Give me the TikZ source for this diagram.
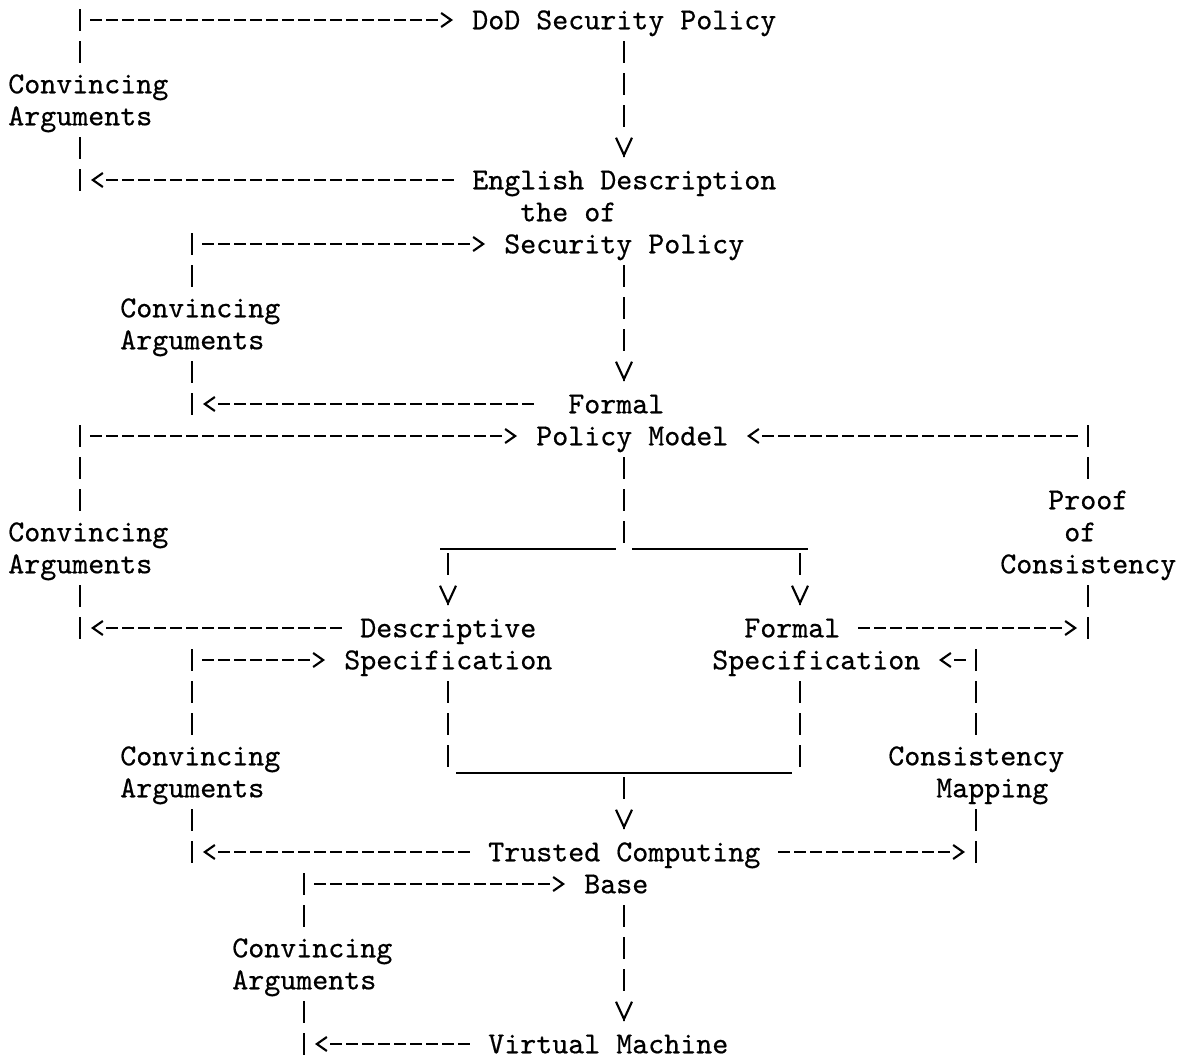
\documentclass[tikz,border=0pt]{standalone}
\usepackage{fontspec}
\usetikzlibrary{arrows.meta}

% typewriter face, slightly darkened
\newfontfamily\tw{lmmono10-regular}[Extension=.otf,FakeBold=0.5]

% one grid cell = one typewriter character: 12pt wide, 24pt high
% vertical run of "|" marks in column #1, rows #2..#3
\newcommand\vrun[3]{\draw[pipe] (#1,#2-0.34375) -- (#1,#3+0.34375);}
% horizontal run of "-" marks in columns #1..#2, row #3
\newcommand\hrun[3]{\draw[hdash] (#1-0.375,#3) -- (#2+0.375,#3);}
% arrowheads: ">" , "<" and "V" in column #1, row #2
\newcommand\tipR[2]{\draw[htip] (#1+0.25,#2) -- (#1+0.3125,#2);}
\newcommand\tipL[2]{\draw[htip] (#1-0.25,#2) -- (#1-0.3125,#2);}
\newcommand\tipV[2]{\draw[vtip] (#1,#2+0.27) -- (#1,#2+0.3);}

\begin{document}
\begin{tikzpicture}[x=12pt,y=-24pt,
  lbl/.style={anchor=base west,inner sep=0pt,
    font=\tw\fontsize{22.86pt}{24pt}\selectfont},
  pipe/.style={line width=1.7pt,dash pattern=on 16.5pt off 7.5pt},
  hdash/.style={line width=1.8pt,dash pattern=on 9pt off 3pt},
  uline/.style={line width=1.6pt},
  htip/.style={line width=1.6pt,-{Straight Barb[length=7.5pt,width=10.5pt]}},
  vtip/.style={line width=1.6pt,-{Straight Barb[length=13pt,width=12pt]}}]

\fill[white] (0,0) rectangle (74.125,33.125);
\useasboundingbox (0,0) rectangle (74.125,33.125);

\begin{scope}[shift={(1,0.625)}]
% ---------------- labels ----------------
\node[lbl] (dod)  at (28.5,0.29)  {DoD Security Policy};
\node[lbl] (ca1a) at (-0.5,2.29)  {Convincing};
\node[lbl] (ca1b) at (-0.5,3.29)  {Arguments};
\node[lbl] (eng1) at (28.5,5.29)  {English Description};
\node[lbl] (eng2) at (31.5,6.29)  {the of};
\node[lbl] (eng3) at (30.5,7.29)  {Security Policy};
\node[lbl] (ca2a) at (6.5,9.29)   {Convincing};
\node[lbl] (ca2b) at (6.5,10.29)  {Arguments};
\node[lbl] (fpm1) at (34.5,12.29) {Formal};
\node[lbl] (fpm2) at (32.5,13.29) {Policy Model};
\node[lbl] (poc1) at (64.5,15.29) {Proof};
\node[lbl] (poc2) at (65.5,16.29) {of};
\node[lbl] (poc3) at (61.5,17.29) {Consistency};
\node[lbl] (ca3a) at (-0.5,16.29) {Convincing};
\node[lbl] (ca3b) at (-0.5,17.29) {Arguments};
\node[lbl] (ds1)  at (21.5,19.29) {Descriptive};
\node[lbl] (ds2)  at (20.5,20.29) {Specification};
\node[lbl] (fs1)  at (45.5,19.29) {Formal};
\node[lbl] (fs2)  at (43.5,20.29) {Specification};
\node[lbl] (ca4a) at (6.5,23.29)  {Convincing};
\node[lbl] (ca4b) at (6.5,24.29)  {Arguments};
\node[lbl] (cm1)  at (54.5,23.29) {Consistency};
\node[lbl] (cm2)  at (57.5,24.29) {Mapping};
\node[lbl] (tcb1) at (29.5,26.29) {Trusted Computing};
\node[lbl] (tcb2) at (35.5,27.29) {Base};
\node[lbl] (ca5a) at (13.5,29.29) {Convincing};
\node[lbl] (ca5b) at (13.5,30.29) {Arguments};
\node[lbl] (vm)   at (29.5,32.29) {Virtual Machine};

% ---------------- DoD policy -> English description ----------------
\vrun{38}{1}{3} \tipV{38}{4}
\vrun{4}{0}{1} \vrun{4}{4}{5}
\hrun{5}{26}{0} \tipR{27}{0}
\tipL{5}{5} \hrun{6}{27}{5}

% ---------------- English description -> formal policy model ----------------
\vrun{38}{8}{10} \tipV{38}{11}
\vrun{11}{7}{8} \vrun{11}{11}{12}
\hrun{12}{28}{7} \tipR{29}{7}
\tipL{12}{12} \hrun{13}{32}{12}

% ---------------- model splits into the two specifications ----------------
\vrun{38}{14}{16}
\draw[uline] (26.5,16.53) -- (37.5,16.53);
\draw[uline] (38.5,16.53) -- (49.5,16.53);
\vrun{27}{17}{17} \tipV{27}{18}
\vrun{49}{17}{17} \tipV{49}{18}

\vrun{4}{13}{15} \vrun{4}{18}{19}
\hrun{5}{30}{13} \tipR{31}{13}
\tipL{5}{19} \hrun{6}{20}{19}

% proof of consistency
\tipL{46}{13} \hrun{47}{66}{13}
\vrun{67}{13}{14} \vrun{67}{18}{19}
\hrun{53}{65}{19} \tipR{66}{19}

% ---------------- specifications merge into the TCB ----------------
\vrun{27}{21}{23} \vrun{49}{21}{23}
\draw[uline] (27.5,23.53) -- (48.5,23.53);
\vrun{38}{24}{24} \tipV{38}{25}

\vrun{11}{20}{22} \vrun{11}{25}{26}
\hrun{12}{18}{20} \tipR{19}{20}
\tipL{12}{26} \hrun{13}{28}{26}

% consistency mapping
\tipL{58}{20} \hrun{59}{59}{20}
\vrun{60}{20}{22} \vrun{60}{25}{26}
\hrun{48}{58}{26} \tipR{59}{26}

% ---------------- TCB -> virtual machine ----------------
\vrun{38}{28}{30} \tipV{38}{31}
\vrun{18}{27}{28} \vrun{18}{31}{32}
\hrun{19}{33}{27} \tipR{34}{27}
\tipL{19}{32} \hrun{20}{28}{32}
\end{scope}
\end{tikzpicture}
\end{document}
